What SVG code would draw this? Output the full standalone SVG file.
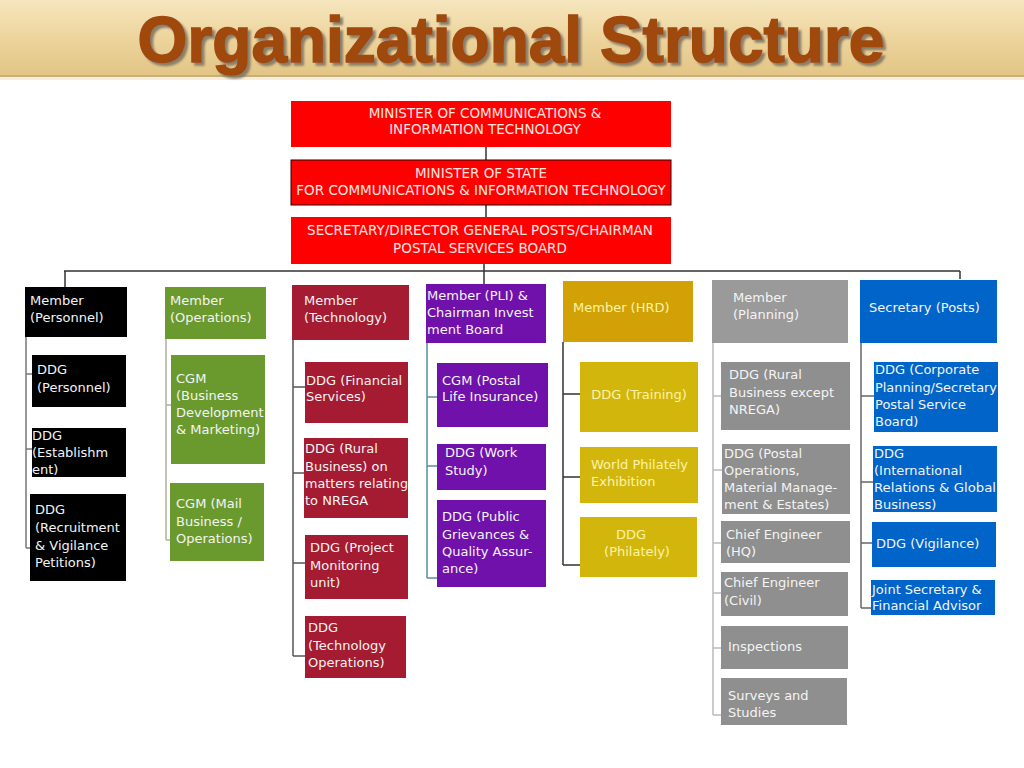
<svg xmlns="http://www.w3.org/2000/svg" width="1024" height="768" viewBox="0 0 1024 768">
<defs>
<linearGradient id="parch" x1="0" y1="0" x2="0" y2="1">
<stop offset="0" stop-color="#F6E6BE"/>
<stop offset="0.5" stop-color="#EDD49C"/>
<stop offset="1" stop-color="#E2C585"/>
</linearGradient>
<filter id="shadow" x="-5%" y="-20%" width="110%" height="150%">
<feDropShadow dx="3" dy="3" stdDeviation="1" flood-color="#7A705E" flood-opacity="0.85"/>
</filter>
<style>
.t{font-family:"DejaVu Sans",Verdana,sans-serif;font-size:13px;fill:#F4F4F4}
.tr{font-family:"DejaVu Sans",Verdana,sans-serif;font-size:13.5px;fill:#FFE6E0;text-anchor:middle}
.ty{fill:#FBF3A8}
.c{text-anchor:middle}
.red{fill:#FF0000}
.blk{fill:#000000}
.grn{fill:#6A9A2E}
.crm{fill:#A51B31}
.pur{fill:#7011AC}
.gld{fill:#D2A105}
.yel{fill:#D3B60C}
.gry{fill:#8F8F8F}
.gry2{fill:#9A9A9A}
.blu{fill:#0064C9}
.ln{fill:none;stroke-width:1.5}
</style>
</defs>
<rect width="1024" height="768" fill="#FFFFFF"/>
<g id="title">
<rect x="0" y="0" width="1024" height="77" fill="url(#parch)"/>
<rect x="0" y="75" width="1024" height="2" fill="#C9AE78"/>
<rect x="0" y="77" width="1024" height="3" fill="#F6EEDA"/>
<text x="511" y="62" font-family="Liberation Sans,Arial,sans-serif" font-weight="bold" font-size="64" text-anchor="middle" fill="#A0480F" stroke="#A0480F" stroke-width="1.5" filter="url(#shadow)">Organizational Structure</text>
</g>
<g id="connectors">
<path class="ln" stroke="#333" d="M486 147V160M486 205V217M484 264V284M64 271H960M65 271V287M960 271V279"/>
<path class="ln" stroke="#777" d="M26 337V548M26 374H32M26 449H32M26 548H30"/>
<path class="ln" stroke="#B0B0A0" d="M166 339V540M166 405H171M166 540H170"/>
<path class="ln" stroke="#555" d="M293 340V656M293 387H305M293 473H304M293 563H305M293 656H305"/>
<path class="ln" stroke="#5A8E98" d="M427 343V578M427 397H437M427 466H437M427 578H437"/>
<path class="ln" stroke="#333" d="M563 342V565M563 394H580M563 477H580M563 565H580"/>
<path class="ln" stroke="#BBBBBB" d="M713 343V715M713 396H721M713 470H722M713 543H721M713 593H721M713 648H721M713 715H721"/>
<path class="ln" stroke="#666" d="M861 343V608M861 396H874M861 482H873M861 543H872M861 608H871"/>
</g>
<g id="n_minister">
<rect class="red" x="291" y="101" width="380" height="46"/>
<text class="tr" x="485" y="118">MINISTER OF COMMUNICATIONS &amp;</text>
<text class="tr" x="485" y="134">INFORMATION TECHNOLOGY</text>
</g>
<g id="n_mos">
<rect class="red" x="291" y="160" width="380" height="45" stroke="#300" stroke-width="1"/>
<text class="tr" x="481" y="178">MINISTER OF STATE</text>
<text class="tr" x="481" y="195">FOR COMMUNICATIONS &amp; INFORMATION TECHNOLOGY</text>
</g>
<g id="n_secretary_dg">
<rect class="red" x="291" y="217" width="380" height="47"/>
<text class="tr" x="480" y="235">SECRETARY/DIRECTOR GENERAL POSTS/CHAIRMAN</text>
<text class="tr" x="480" y="253">POSTAL SERVICES BOARD</text>
</g>
<g id="n_member_personnel">
<rect class="blk" x="25" y="287" width="102" height="50"/>
<text class="t" x="30" y="305">Member</text>
<text class="t" x="30" y="322">(Personnel)</text>
</g>
<g id="n_ddg_personnel">
<rect class="blk" x="32" y="355" width="94" height="52"/>
<text class="t" x="37" y="374">DDG</text>
<text class="t" x="37" y="392">(Personnel)</text>
</g>
<g id="n_ddg_establishment">
<rect class="blk" x="32" y="428" width="94" height="49"/>
<text class="t" x="32" y="440">DDG</text>
<text class="t" x="32" y="457">(Establishm</text>
<text class="t" x="32" y="474">ent)</text>
</g>
<g id="n_ddg_recruitment">
<rect class="blk" x="30" y="494" width="96" height="87"/>
<text class="t" x="35" y="514">DDG</text>
<text class="t" x="35" y="532">(Recruitment</text>
<text class="t" x="35" y="550">&amp; Vigilance</text>
<text class="t" x="35" y="567">Petitions)</text>
</g>
<g id="n_member_operations">
<rect class="grn" x="165" y="287" width="101" height="52"/>
<text class="t" x="170" y="305">Member</text>
<text class="t" x="170" y="322">(Operations)</text>
</g>
<g id="n_cgm_bdm">
<rect class="grn" x="171" y="355" width="94" height="109"/>
<text class="t" x="176" y="383">CGM</text>
<text class="t" x="176" y="400">(Business</text>
<text class="t" x="176" y="417">Development</text>
<text class="t" x="176" y="434">&amp; Marketing)</text>
</g>
<g id="n_cgm_mail">
<rect class="grn" x="170" y="483" width="94" height="78"/>
<text class="t" x="176" y="508">CGM (Mail</text>
<text class="t" x="176" y="526">Business /</text>
<text class="t" x="176" y="543">Operations)</text>
</g>
<g id="n_member_technology">
<rect class="crm" x="292" y="285" width="117" height="55"/>
<text class="t" x="304" y="305">Member</text>
<text class="t" x="304" y="322">(Technology)</text>
</g>
<g id="n_ddg_financial">
<rect class="crm" x="305" y="362" width="103" height="61"/>
<text class="t" x="306" y="385">DDG (Financial</text>
<text class="t" x="306" y="401">Services)</text>
</g>
<g id="n_ddg_rural_nrega">
<rect class="crm" x="304" y="438" width="104" height="80"/>
<text class="t" x="305" y="453">DDG (Rural</text>
<text class="t" x="305" y="471">Business) on</text>
<text class="t" x="305" y="488" textLength="103" lengthAdjust="spacingAndGlyphs">matters relating</text>
<text class="t" x="305" y="505">to NREGA</text>
</g>
<g id="n_ddg_project">
<rect class="crm" x="305" y="535" width="103" height="64"/>
<text class="t" x="310" y="552">DDG (Project</text>
<text class="t" x="310" y="570">Monitoring</text>
<text class="t" x="310" y="587">unit)</text>
</g>
<g id="n_ddg_techops">
<rect class="crm" x="305" y="616" width="101" height="62"/>
<text class="t" x="308" y="632">DDG</text>
<text class="t" x="308" y="650">(Technology</text>
<text class="t" x="308" y="667">Operations)</text>
</g>
<g id="n_member_pli">
<rect class="pur" x="426" y="284" width="120" height="59"/>
<text class="t" x="427" y="300">Member (PLI) &amp;</text>
<text class="t" x="427" y="317">Chairman  Invest</text>
<text class="t" x="427" y="334">ment  Board</text>
</g>
<g id="n_cgm_pli">
<rect class="pur" x="437" y="363" width="111" height="64"/>
<text class="t" x="442" y="385">CGM (Postal</text>
<text class="t" x="442" y="401">Life Insurance)</text>
</g>
<g id="n_ddg_workstudy">
<rect class="pur" x="437" y="444" width="109" height="46"/>
<text class="t" x="445" y="457">DDG (Work</text>
<text class="t" x="445" y="475">Study)</text>
</g>
<g id="n_ddg_pgqa">
<rect class="pur" x="437" y="500" width="109" height="87"/>
<text class="t" x="442" y="521">DDG (Public</text>
<text class="t" x="442" y="539">Grievances &amp;</text>
<text class="t" x="442" y="556">Quality Assur-</text>
<text class="t" x="442" y="573">ance)</text>
</g>
<g id="n_member_hrd">
<rect class="gld" x="563" y="281" width="130" height="61"/>
<text class="t ty" x="573" y="312">Member (HRD)</text>
</g>
<g id="n_ddg_training">
<rect class="yel" x="580" y="362" width="118" height="70"/>
<text class="t ty c" x="639" y="399">DDG (Training)</text>
</g>
<g id="n_world_philately">
<rect class="yel" x="580" y="447" width="118" height="56"/>
<text class="t ty" x="591" y="469">World Philately</text>
<text class="t ty" x="591" y="486">Exhibition</text>
</g>
<g id="n_ddg_philately">
<rect class="yel" x="580" y="517" width="117" height="60"/>
<text class="t ty c" x="631" y="539">DDG</text>
<text class="t ty c" x="637" y="556">(Philately)</text>
</g>
<g id="n_member_planning">
<rect class="gry2" x="712" y="280" width="136" height="63"/>
<text class="t" x="733" y="302">Member</text>
<text class="t" x="733" y="319">(Planning)</text>
</g>
<g id="n_ddg_rural_except">
<rect class="gry" x="721" y="362" width="129" height="68"/>
<text class="t" x="729" y="379">DDG (Rural</text>
<text class="t" x="729" y="397">Business except</text>
<text class="t" x="729" y="414">NREGA)</text>
</g>
<g id="n_ddg_postal_ops">
<rect class="gry" x="722" y="444" width="128" height="70"/>
<text class="t" x="724" y="458">DDG (Postal</text>
<text class="t" x="724" y="475">Operations,</text>
<text class="t" x="724" y="492">Material Manage-</text>
<text class="t" x="724" y="509">ment &amp; Estates)</text>
</g>
<g id="n_ce_hq">
<rect class="gry" x="721" y="521" width="129" height="42"/>
<text class="t" x="726" y="539">Chief Engineer</text>
<text class="t" x="726" y="556">(HQ)</text>
</g>
<g id="n_ce_civil">
<rect class="gry" x="721" y="572" width="127" height="44"/>
<text class="t" x="724" y="587">Chief Engineer</text>
<text class="t" x="724" y="605">(Civil)</text>
</g>
<g id="n_inspections">
<rect class="gry" x="721" y="626" width="127" height="43"/>
<text class="t" x="728" y="651">Inspections</text>
</g>
<g id="n_surveys">
<rect class="gry" x="721" y="678" width="126" height="47"/>
<text class="t" x="728" y="700">Surveys and</text>
<text class="t" x="728" y="717">Studies</text>
</g>
<g id="n_secretary_posts">
<rect class="blu" x="860" y="280" width="137" height="63"/>
<text class="t" x="869" y="312">Secretary (Posts)</text>
</g>
<g id="n_ddg_corporate">
<rect class="blu" x="874" y="362" width="124" height="70"/>
<text class="t" x="875" y="374">DDG (Corporate</text>
<text class="t" x="875" y="392" textLength="122" lengthAdjust="spacingAndGlyphs">Planning/Secretary</text>
<text class="t" x="875" y="409">Postal Service</text>
<text class="t" x="875" y="426">Board)</text>
</g>
<g id="n_ddg_international">
<rect class="blu" x="873" y="446" width="124" height="66"/>
<text class="t" x="874" y="458">DDG</text>
<text class="t" x="874" y="475">(International</text>
<text class="t" x="874" y="492" textLength="122" lengthAdjust="spacingAndGlyphs">Relations &amp; Global</text>
<text class="t" x="874" y="509">Business)</text>
</g>
<g id="n_ddg_vigilance">
<rect class="blu" x="872" y="522" width="124" height="45"/>
<text class="t" x="876" y="548">DDG (Vigilance)</text>
</g>
<g id="n_js_fa">
<rect class="blu" x="871" y="580" width="124" height="35"/>
<text class="t" x="872" y="594">Joint Secretary &amp;</text>
<text class="t" x="872" y="610">Financial Advisor</text>
</g>
</svg>
